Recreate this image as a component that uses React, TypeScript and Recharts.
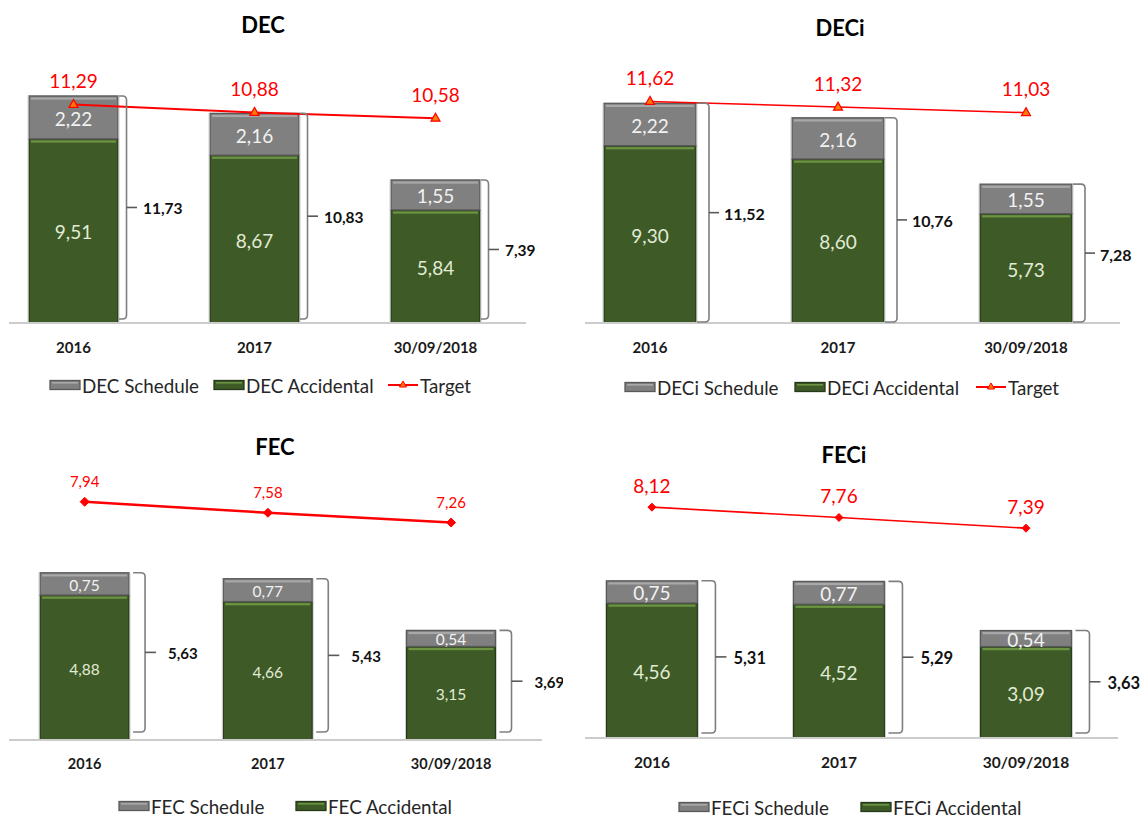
import React from 'react';
import { ComposedChart, Bar, Line, XAxis, YAxis, LabelList } from 'recharts';

const CATEGORIES = ['2016', '2017', '30/09/2018'];

const DEC_SCHEDULE = [2.22, 2.16, 1.55];
const DEC_ACCIDENTAL = [9.51, 8.67, 5.84];
const DEC_TOTAL = [11.73, 10.83, 7.39];
const DEC_TARGET = [11.29, 10.88, 10.58];

const DECI_SCHEDULE = [2.22, 2.16, 1.55];
const DECI_ACCIDENTAL = [9.3, 8.6, 5.73];
const DECI_TOTAL = [11.52, 10.76, 7.28];
const DECI_TARGET = [11.62, 11.32, 11.03];

const FEC_SCHEDULE = [0.75, 0.77, 0.54];
const FEC_ACCIDENTAL = [4.88, 4.66, 3.15];
const FEC_TOTAL = [5.63, 5.43, 3.69];
const FEC_TARGET = [7.94, 7.58, 7.26];

const FECI_SCHEDULE = [0.75, 0.77, 0.54];
const FECI_ACCIDENTAL = [4.56, 4.52, 3.09];
const FECI_TOTAL = [5.31, 5.29, 3.63];
const FECI_TARGET = [8.12, 7.76, 7.39];

const FONT = 'Lato, "Open Sans", sans-serif';
const RED = '#ff0000';
const fmt = (v: number) => v.toFixed(2).replace('.', ',');

type LegendItem = { kind: 'schedule' | 'accidental' | 'target'; x: number; label: string };

type Cfg = {
  title: string;
  titleX: number;
  titleY: number;
  left: number;
  top: number;
  width: number;
  height: number;
  margin: { top: number; right: number; bottom: number; left: number };
  xDomain: [number, number];
  yMax: number;
  targetDomain?: [number, number];
  barSize: number;
  schedule: number[];
  accidental: number[];
  total: number[];
  target?: number[];
  valueFont: number;
  targetFont: number;
  targetDy: number;
  tickFont: number;
  bracketFont: number;
  marker: 'triangle' | 'diamond';
  lineWidth: number;
  bracket: { gap: number; hook: number; tick: number; labelGap: number; inset: number };
  legendY: number;
  legend: LegendItem[];
};

const X_AXIS_H = 30;

const CHARTS: Cfg[] = [
  {
    title: 'DEC', titleX: 263, titleY: 25,
    left: 0, top: 0, width: 571, height: 409,
    margin: { top: 52, right: 45, bottom: 56, left: 9 },
    xDomain: [-0.3564, 2.5], yMax: 14, barSize: 89,
    schedule: DEC_SCHEDULE, accidental: DEC_ACCIDENTAL, total: DEC_TOTAL, target: DEC_TARGET,
    valueFont: 19, targetFont: 19, targetDy: -24, tickFont: 15, bracketFont: 15.5,
    marker: 'triangle', lineWidth: 2,
    bracket: { gap: 1, hook: 7.5, tick: 10.5, labelGap: 6, inset: 4 },
    legendY: 385,
    legend: [
      { kind: 'schedule', x: 49, label: 'DEC Schedule' },
      { kind: 'accidental', x: 213, label: 'DEC Accidental' },
      { kind: 'target', x: 387, label: 'Target' },
    ],
  },
  {
    title: 'DECi', titleX: 840, titleY: 28,
    left: 571, top: 0, width: 571, height: 409,
    margin: { top: 56, right: 22, bottom: 56, left: 14 },
    xDomain: [-0.3457, 2.5], yMax: 14, barSize: 92,
    schedule: DECI_SCHEDULE, accidental: DECI_ACCIDENTAL, total: DECI_TOTAL, target: DECI_TARGET,
    valueFont: 19, targetFont: 19, targetDy: -24, tickFont: 15, bracketFont: 16,
    marker: 'triangle', lineWidth: 1.5,
    bracket: { gap: 1, hook: 12, tick: 10, labelGap: 5, inset: 1 },
    legendY: 387,
    legend: [
      { kind: 'schedule', x: 624, label: 'DECi Schedule' },
      { kind: 'accidental', x: 794, label: 'DECi Accidental' },
      { kind: 'target', x: 975, label: 'Target' },
    ],
  },
  {
    title: 'FEC', titleX: 275, titleY: 447,
    left: 0, top: 409, width: 563, height: 409,
    margin: { top: 34, right: 21, bottom: 48, left: 9 },
    xDomain: [-0.413, 2.496], yMax: 10, targetDomain: [0.154, 9.86], barSize: 89,
    schedule: FEC_SCHEDULE, accidental: FEC_ACCIDENTAL, total: FEC_TOTAL, target: FEC_TARGET,
    valueFont: 15.5, targetFont: 15, targetDy: -21, tickFont: 14.5, bracketFont: 15,
    marker: 'diamond', lineWidth: 2.5,
    bracket: { gap: 4, hook: 12, tick: 11, labelGap: 12, inset: 8 },
    legendY: 806,
    legend: [
      { kind: 'schedule', x: 118, label: 'FEC Schedule' },
      { kind: 'accidental', x: 295, label: 'FEC Accidental' },
    ],
  },
  {
    title: 'FECi', titleX: 844, titleY: 455,
    left: 571, top: 409, width: 571, height: 409,
    margin: { top: 33, right: 24, bottom: 50, left: 14 },
    xDomain: [-0.358, 2.492], yMax: 10, targetDomain: [0.104, 10.382], barSize: 91,
    schedule: FECI_SCHEDULE, accidental: FECI_ACCIDENTAL, total: FECI_TOTAL, target: FECI_TARGET,
    valueFont: 19, targetFont: 19, targetDy: -22, tickFont: 15.5, bracketFont: 16.5,
    marker: 'diamond', lineWidth: 1.6,
    bracket: { gap: 4, hook: 14, tick: 11, labelGap: 7, inset: 5 },
    legendY: 807,
    legend: [
      { kind: 'schedule', x: 678, label: 'FECi Schedule' },
      { kind: 'accidental', x: 860, label: 'FECi Accidental' },
    ],
  },
];

const PALETTE = {
  schedule: { fill: '#808080', edge: '#595959', hi: '#a8a8a8', text: '#f2f2f2' },
  accidental: { fill: '#3d5a27', edge: '#26391a', hi: '#6c9442', text: '#e2ebd4' },
};

const makeBarShape = (kind: 'schedule' | 'accidental') => (props: any) => {
  const { x, y, width, height } = props;
  if (width == null || height == null) return null;
  const c = PALETTE[kind];
  return (
    <g>
      <rect x={x} y={y} width={width} height={height} fill={c.fill} stroke={c.edge} strokeWidth={1.3} />
      <rect x={x + 2} y={y + 1.5} width={Math.max(0, width - 4)} height={2.2} fill={c.hi} />
      <line x1={x - 1} y1={y} x2={x - 1} y2={y + height} stroke="#cfcfcf" strokeWidth={1} />
      <line x1={x + width + 1} y1={y} x2={x + width + 1} y2={y + height} stroke="#cfcfcf" strokeWidth={1} />
    </g>
  );
};

const makeValueLabel = (kind: 'schedule' | 'accidental', size: number) => (props: any) => {
  const vb = props.viewBox || props;
  const { x, y, width, height } = vb;
  if (x == null) return null;
  return (
    <text
      x={x + width / 2}
      y={y + height / 2 + 1}
      textAnchor="middle"
      dominantBaseline="central"
      fontFamily={FONT}
      fontSize={size}
      fill={PALETTE[kind].text}
    >
      {fmt(Number(props.value))}
    </text>
  );
};

const makeBracket = (cfg: Cfg) => (props: any) => {
  const vb = props.viewBox || props;
  const { x, y, width } = vb;
  if (x == null) return null;
  const baseline = cfg.height - cfg.margin.bottom - X_AXIS_H;
  const b = cfg.bracket;
  const x0 = x + width + b.gap;
  const x1 = x0 + b.hook;
  const top = y;
  const bottom = baseline - b.inset;
  const mid = (top + bottom) / 2;
  const r = 4;
  const d = `M ${x0} ${top} L ${x1 - r} ${top} Q ${x1} ${top} ${x1} ${top + r} L ${x1} ${bottom - r} Q ${x1} ${bottom} ${x1 - r} ${bottom} L ${x0} ${bottom}`;
  return (
    <g>
      <path d={d} fill="none" stroke="#7f7f7f" strokeWidth={1.6} />
      <line x1={x1} y1={mid} x2={x1 + b.tick} y2={mid} stroke="#595959" strokeWidth={1.6} />
      <text
        x={x1 + b.tick + b.labelGap}
        y={mid + 1}
        dominantBaseline="central"
        fontFamily={FONT}
        fontWeight={700}
        fontSize={cfg.bracketFont}
        fill="#111"
      >
        {fmt(Number(props.value))}
      </text>
    </g>
  );
};

const makeMarker = (cfg: Cfg) => (props: any) => {
  const { cx, cy, index } = props;
  if (cx == null || cy == null) return null;
  if (cfg.marker === 'triangle') {
    return (
      <path
        key={`m${index}`}
        d={`M ${cx} ${cy - 5} L ${cx + 4.5} ${cy + 3} L ${cx - 4.5} ${cy + 3} Z`}
        fill="#ff7a00"
        stroke={RED}
        strokeWidth={1.2}
      />
    );
  }
  const s = cfg.lineWidth > 2 ? 4.5 : 4;
  return (
    <path
      key={`m${index}`}
      d={`M ${cx} ${cy - s} L ${cx + s} ${cy} L ${cx} ${cy + s} L ${cx - s} ${cy} Z`}
      fill={RED}
      stroke={RED}
      strokeWidth={1}
    />
  );
};

const makeTargetLabel = (cfg: Cfg) => (props: any) => {
  const { x, y, value } = props;
  if (x == null) return null;
  return (
    <text
      x={x}
      y={y + cfg.targetDy}
      textAnchor="middle"
      dominantBaseline="central"
      fontFamily={FONT}
      fontSize={cfg.targetFont}
      fill={RED}
    >
      {fmt(Number(value))}
    </text>
  );
};

const makeTick = (cfg: Cfg) => (props: any) => {
  const { x, y, payload } = props;
  return (
    <text
      x={x}
      y={y + 23.5}
      textAnchor="middle"
      dominantBaseline="central"
      fontFamily={FONT}
      fontWeight={700}
      fontSize={cfg.tickFont}
      fill="#1a1a1a"
    >
      {CATEGORIES[payload.value]}
    </text>
  );
};

const LegendIcon = ({ kind }: { kind: LegendItem['kind'] }) => {
  if (kind === 'target') {
    return (
      <svg width={32} height={12} style={{ display: 'block' }}>
        <line x1={1} y1={6} x2={31} y2={6} stroke={RED} strokeWidth={2} />
        <path d="M 16 2 L 19.5 8 L 12.5 8 Z" fill="#ff7a00" stroke={RED} strokeWidth={1} />
      </svg>
    );
  }
  const c = PALETTE[kind];
  return (
    <svg width={32} height={12} style={{ display: 'block' }}>
      <rect x={1} y={1.5} width={30} height={9} fill={c.fill} stroke={c.edge} strokeWidth={1.3} />
      <rect x={3} y={3} width={26} height={1.6} fill={c.hi} />
    </svg>
  );
};

const ChartPanel = ({ cfg }: { cfg: Cfg }) => {
  const data = CATEGORIES.map((name, i) => ({
    idx: i,
    name,
    schedule: cfg.schedule[i],
    accidental: cfg.accidental[i],
    total: cfg.total[i],
    target: cfg.target ? cfg.target[i] : undefined,
  }));
  const targetAxis = cfg.targetDomain ? 't' : 'l';
  return (
    <>
      <div
        style={{
          position: 'absolute',
          left: cfg.titleX - 100,
          top: cfg.titleY - 14,
          width: 200,
          height: 28,
          lineHeight: '28px',
          textAlign: 'center',
          fontFamily: FONT,
          fontWeight: 700,
          fontSize: 22,
          color: '#000',
        }}
      >
        {cfg.title}
      </div>
      <div
        style={{
          position: 'absolute',
          left: cfg.left,
          top: cfg.top,
          width: cfg.width,
          height: cfg.height,
          overflow: 'hidden',
        }}
      >
        <ComposedChart width={cfg.width} height={cfg.height} data={data} margin={cfg.margin}>
          <XAxis
            type="number"
            dataKey="idx"
            domain={cfg.xDomain}
            ticks={[0, 1, 2]}
            allowDataOverflow
            interval={0}
            tickLine={false}
            tickSize={0}
            tickMargin={0}
            height={X_AXIS_H}
            axisLine={{ stroke: '#cccccc', strokeWidth: 2 }}
            tick={makeTick(cfg)}
          />
          <YAxis yAxisId="l" hide domain={[0, cfg.yMax]} allowDataOverflow />
          {cfg.targetDomain && (
            <YAxis yAxisId="t" hide domain={cfg.targetDomain} allowDataOverflow orientation="right" />
          )}
          <Bar
            yAxisId="l"
            dataKey="accidental"
            stackId="s"
            barSize={cfg.barSize}
            shape={makeBarShape('accidental')}
            isAnimationActive={false}
          >
            <LabelList dataKey="accidental" content={makeValueLabel('accidental', cfg.valueFont)} />
          </Bar>
          <Bar
            yAxisId="l"
            dataKey="schedule"
            stackId="s"
            barSize={cfg.barSize}
            shape={makeBarShape('schedule')}
            isAnimationActive={false}
          >
            <LabelList dataKey="schedule" content={makeValueLabel('schedule', cfg.valueFont)} />
            <LabelList dataKey="total" content={makeBracket(cfg)} />
          </Bar>
          {cfg.target && (
            <Line
              yAxisId={targetAxis}
              dataKey="target"
              stroke={RED}
              strokeWidth={cfg.lineWidth}
              dot={makeMarker(cfg)}
              activeDot={false}
              isAnimationActive={false}
            >
              <LabelList dataKey="target" content={makeTargetLabel(cfg)} />
            </Line>
          )}
        </ComposedChart>
      </div>
      {cfg.legend.map((item) => (
        <div
          key={item.label}
          style={{
            position: 'absolute',
            left: item.x,
            top: cfg.legendY - 11,
            height: 22,
            display: 'flex',
            alignItems: 'center',
            fontFamily: FONT,
            fontSize: 18.8,
            color: '#262626',
            whiteSpace: 'nowrap',
          }}
        >
          <LegendIcon kind={item.kind} />
          <span style={{ marginLeft: 1 }}>{item.label}</span>
        </div>
      ))}
    </>
  );
};

export default function App() {
  return (
    <div
      style={{
        position: 'absolute',
        left: 0,
        top: 0,
        width: 1142,
        height: 818,
        background: '#fff',
        overflow: 'hidden',
      }}
    >
      {CHARTS.map((cfg) => (
        <ChartPanel key={cfg.title} cfg={cfg} />
      ))}
    </div>
  );
}
